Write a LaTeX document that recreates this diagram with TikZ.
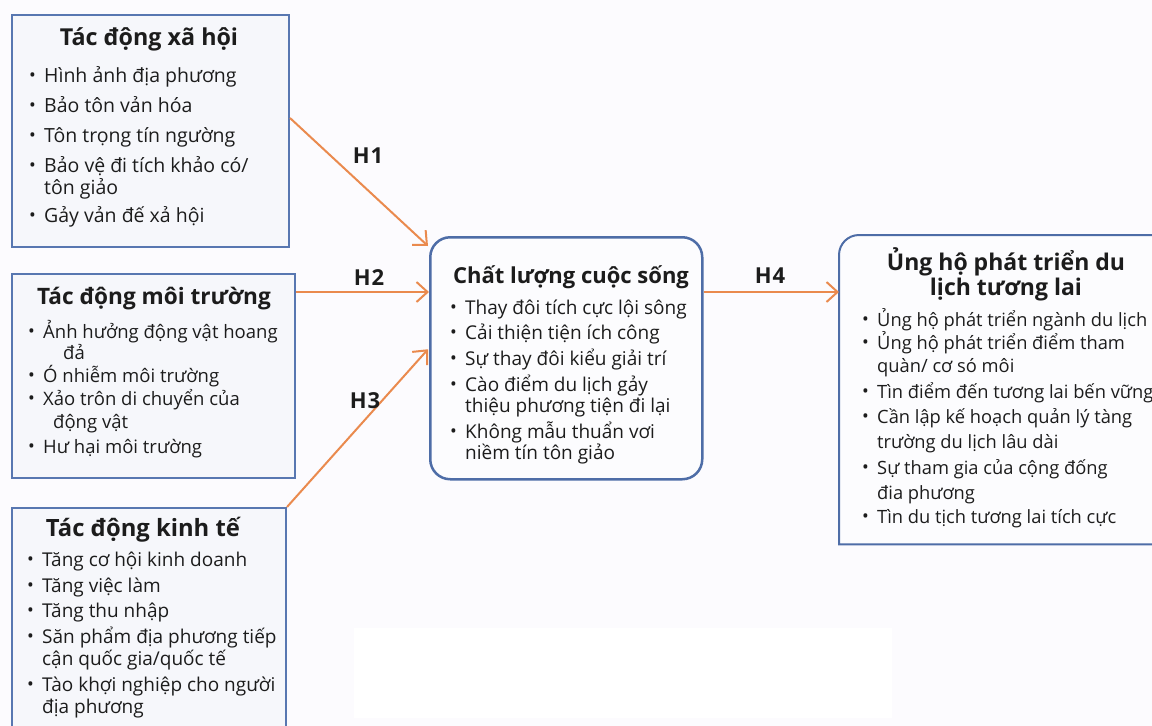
\documentclass[tikz,border=0pt]{standalone}
\usepackage{fontspec}
\setmainfont{Open Sans}
\usetikzlibrary{arrows.meta,calc}
\definecolor{bg}{HTML}{FCFBFE}
\definecolor{bord}{HTML}{5877B1}
\definecolor{bordc}{HTML}{4E6DA7}
\definecolor{boxfill}{HTML}{F6F7FB}
\definecolor{cfill}{HTML}{FCFCFE}
\definecolor{orng}{HTML}{EA8A4E}
\definecolor{txt}{HTML}{1C1C1C}
\newcommand\bul{\makebox[15pt][l]{\raisebox{0.5pt}{\fontsize{18}{18}\selectfont •}}}
\newcommand\li[3]{\node[itm] (#1) at (#2) {\bul#3};}
\newcommand\lc[3]{\node[itm] (#1) at (#2) {#3};}
\newcommand\fs[1]{\fontsize{#1}{#1}\selectfont}
\begin{document}
\begin{tikzpicture}[x=1pt,y=-1pt,
  sqbox/.style={draw=bord,line width=2pt,fill=boxfill,rectangle,anchor=north west,inner sep=0pt},
  rbox/.style={draw=bordc,line width=2.5pt,fill=cfill,rectangle,rounded corners=20pt,anchor=north west,inner sep=0pt},
  ttl/.style={font=\fs{22}\bfseries,text=txt,inner sep=0pt,anchor=base},
  itm/.style={font=\fs{18},text=txt,inner sep=0pt,anchor=base west},
  hlab/.style={font=\fs{22}\bfseries,text=txt,inner sep=0pt,anchor=base},
  arr/.style={draw=orng,line width=2pt,-{Straight Barb[length=11pt,width=20pt,line width=2pt]}}
]
\useasboundingbox (0,0) rectangle (1152,726);
\fill[bg] (0,0) rectangle (1152,726);
\fill[white] (354,628) rectangle (892,718);

% frames
\node[sqbox,minimum width=277pt,minimum height=232pt] (b1) at (11,14) {};
\node[sqbox,minimum width=283pt,minimum height=204pt] (b2) at (11,273) {};
\node[sqbox,minimum width=274pt,minimum height=240pt] (b3) at (11,507) {};
\node[rbox,minimum width=272pt,minimum height=242pt] (c) at (429,236) {};
\node[rectangle,anchor=north west,inner sep=0pt,minimum width=330pt,minimum height=309pt] (d) at (839,235) {};
\filldraw[draw=bordc,line width=2pt,fill=cfill]
  (d.south west) -- ([yshift=-20pt]d.north west) arc[start angle=180,end angle=90,radius=20pt]
  -- (d.north east) -- (d.south east) -- cycle;

% box 1
\node[ttl,font=\fs{23.3}\bfseries] (t1) at (149,45) {Tác động xã hội};
\begin{scope}[itm/.append style={font=\fs{19.5}}]
\li{a1}{29,82}{Hình ảnh địa phương}
\li{a2}{29,112}{Bảo tôn vản hóa}
\li{a3}{29,142}{Tôn trọng tín ngường}
\li{a4}{29,172}{Bảo vệ đi tích khảo có/}
\lc{a4b}{44,194}{tôn giảo}
\li{a5}{29,222}{Gảy vản đế xả hội}
\end{scope}

% box 2
\node[ttl,font=\fs{22.6}\bfseries] (t2) at (154,304) {Tác động môi trường};
\begin{scope}[itm/.append style={font=\fs{18.5}}]
\li{e1}{28,338}{Ảnh hưởng động vật hoang}
\lc{e1b}{63,359}{đả}
\li{e2}{28,382}{Ó nhiễm môi trường}
\li{e3}{28,405}{Xảo trôn di chuyển của}
\lc{e3b}{53,428}{động vật}
\li{e4}{28,453}{Hư hại môi trường}
\end{scope}

% box 3
\node[ttl,font=\fs{23.8}\bfseries] (t3) at (143,536) {Tác động kinh tế};
\begin{scope}[itm/.append style={font=\fs{19}}]
\li{k1}{27,566}{Tăng cơ hội kinh doanh}
\li{k2}{27,592}{Tăng việc làm}
\li{k3}{27,617}{Tăng thu nhập}
\li{k4}{27,643}{Săn phẩm địa phương tiếp}
\lc{k4b}{42,665}{cận quốc gia/quốc tế}
\li{k5}{27,691}{Tào khợi nghiệp cho người}
\lc{k5b}{42,713}{địa phương}
\end{scope}

% center box
\node[ttl,font=\fs{22}\bfseries] (tc) at (571,283) {Chất lượng cuộc sống};
\begin{scope}[itm/.append style={font=\fs{19}}]
\li{q1}{450,314}{Thay đôi tích cực lội sông}
\li{q2}{450,339}{Cải thiện tiện ích công}
\li{q3}{450,365}{Sự thay đôi kiểu giải trí}
\li{q4}{450,391}{Cào điểm du lịch gảy}
\lc{q4b}{465,412}{thiệu phương tiện đi lại}
\li{q5}{450,438}{Không mẫu thuẩn vơi}
\lc{q5b}{465,459}{niềm tín tôn giảo}
\end{scope}

% right box
\node[ttl,font=\fs{23}\bfseries] (td1) at (1006,270) {Ủng hộ phát triển du};
\node[ttl,font=\fs{23}\bfseries] (td2) at (1006,295) {lịch tương lai};
\begin{scope}[itm/.append style={font=\fs{18.3}}]
\li{u1}{862,326}{Ủng hộ phát triển ngành du lịch}
\li{u2}{862,349}{Ủng hộ phát triển điểm tham}
\lc{u2b}{877,372}{quàn/ cơ só môi}
\li{u3}{862,398}{Tìn điểm đến tương lai bến vững}
\li{u4}{862,423}{Cần lập kế hoạch quản lý tàng}
\lc{u4b}{877,448}{trường du lịch lâu dài}
\li{u5}{862,474}{Sự tham gia của cộng đống}
\lc{u5b}{877,499}{đia phương}
\li{u6}{862,523}{Tìn du tịch tương lai tích cực}
\end{scope}

% connectors
\coordinate (h2y) at (0,292);
\draw[arr] ([yshift=13pt]b1.east) -- ([xshift=-1pt,yshift=-10pt]c.north west);
\draw[arr] (b2.east |- h2y) -- (c.west |- h2y);
\draw[arr] (b3.north east) -- ([xshift=-1pt,yshift=9pt]c.west);
\draw[arr] (c.east |- h2y) -- (d.west |- h2y);

% labels
\node[hlab] (H1) at (368,163) {H\kern1pt1};
\node[hlab] (H2) at (369,285) {H\kern1pt2};
\node[hlab] (H3) at (365,408) {H\kern1pt3};
\node[hlab] (H4) at (770,283) {H\kern1pt4};
\end{tikzpicture}
\end{document}
